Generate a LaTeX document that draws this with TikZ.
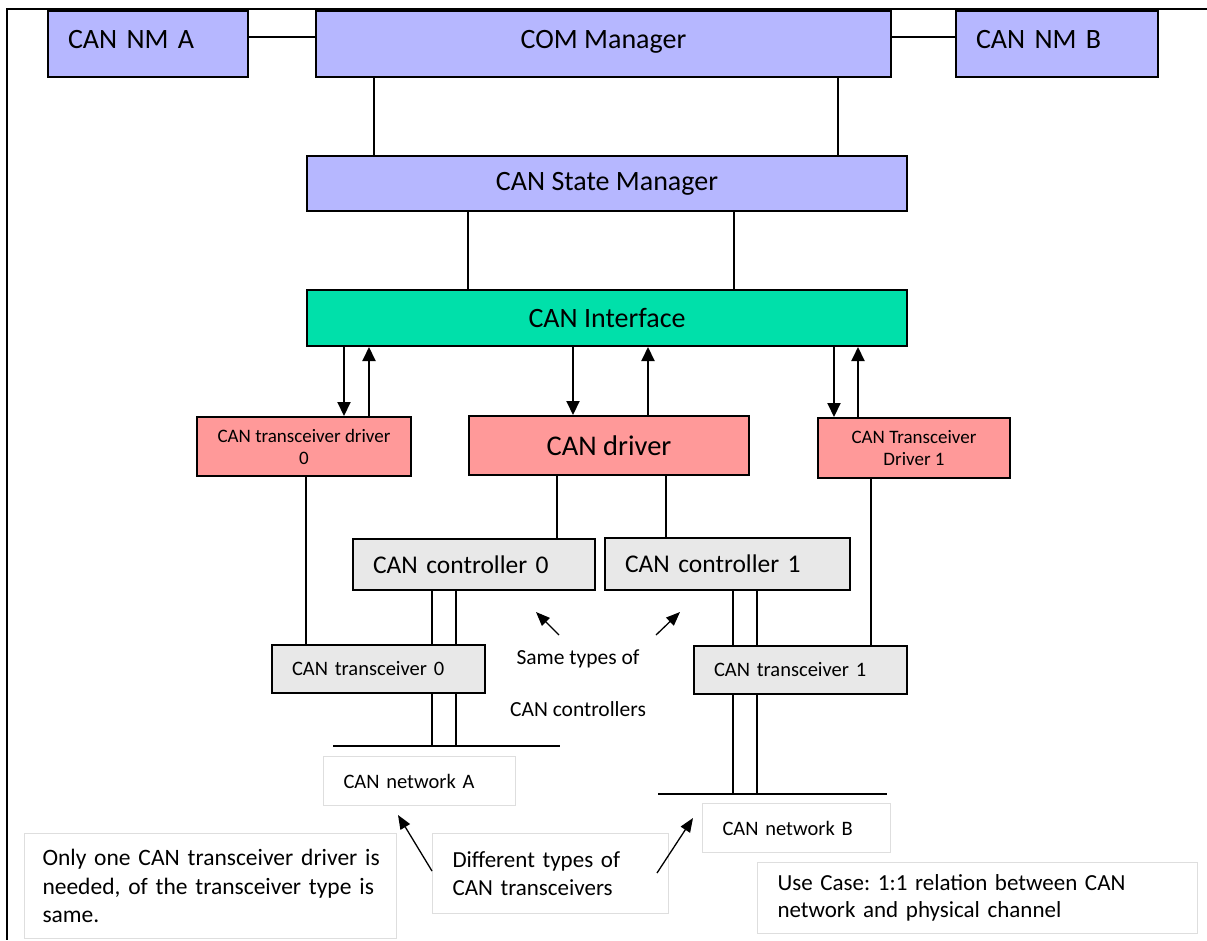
\documentclass[tikz,border=0pt]{standalone}
\usepackage{fontspec}
\setmainfont{Carlito}
\usetikzlibrary{arrows.meta}

\definecolor{nmblue}{RGB}{182,183,255}
\definecolor{ifteal}{RGB}{0,224,170}
\definecolor{drvpink}{RGB}{255,153,153}
\definecolor{hwgray}{RGB}{232,232,232}
\definecolor{noteline}{RGB}{222,222,222}

\tikzset{
  box/.style={draw, line width=2pt, anchor=north west, inner sep=0pt},
  modbox/.style={box, fill=nmblue, font=\fontsize{28}{32}\selectfont},
  toprow/.style={modbox, minimum height=66pt, text height=20pt, text depth=12pt},
  drvbox/.style={box, fill=drvpink},
  hwbox/.style={box, fill=hwgray},
  notebox/.style={draw=noteline, line width=1pt, anchor=north west, inner sep=0pt, fill=white},
  bigarrow/.style={-{Triangle[width=13pt,length=14pt]}},
  notearrow/.style={line width=1.3pt, -{Triangle[width=11pt,length=14pt]}}
}

\begin{document}
\frenchspacing
\begin{tikzpicture}[x=1pt, y=-1pt, line width=2pt]
\useasboundingbox (0,0) rectangle (1207,940);
\draw (1207,9) -- (7,9) -- (7,940);

% upper layer
\node[toprow, minimum width=200pt, text width=160pt, align=left] (nma) at (47,10) {CAN NM A};
\node[toprow, minimum width=575pt] (com) at (315,10) {COM Manager};
\node[toprow, minimum width=202pt, text width=162pt, align=left] (nmb) at (955,10) {CAN NM B};
\node[modbox, minimum width=600pt, minimum height=55pt] (csm) at (306,155) {CAN State Manager};
\node[box, fill=ifteal, font=\fontsize{28}{32}\selectfont, minimum width=600pt, minimum height=56pt] (canif) at (306,289) {CAN Interface};

% drivers
\node[drvbox, font=\fontsize{19}{22}\selectfont, minimum width=214pt, minimum height=59pt, align=center] (trdrv0) at (196,416) {CAN transceiver driver\\0};
\node[drvbox, font=\fontsize{28.5}{32}\selectfont, minimum width=280pt, minimum height=59pt] (candrv) at (468,415) {CAN driver};
\node[drvbox, font=\fontsize{19}{22}\selectfont, minimum width=192pt, minimum height=60pt, align=center] (trdrv1) at (817,417) {CAN Transceiver\\Driver 1};

% hardware
\node[hwbox, font=\fontsize{25.5}{28}\selectfont, minimum width=242pt, minimum height=51pt, text width=202pt, align=left] (ctrl0) at (352,538) {CAN controller 0};
\node[hwbox, font=\fontsize{25.5}{28}\selectfont, minimum width=245pt, minimum height=52pt, text width=205pt, align=left] (ctrl1) at (604,537) {CAN controller 1};
\node[hwbox, font=\fontsize{20.5}{24}\selectfont, minimum width=213pt, minimum height=48pt, text width=173pt, align=left] (trcv0) at (271,644) {CAN transceiver 0};
\node[hwbox, font=\fontsize{20.5}{24}\selectfont, minimum width=213pt, minimum height=48pt, text width=173pt, align=left] (trcv1) at (693,645) {CAN transceiver 1};

% networks
\coordinate (busAw) at (333,746);
\coordinate (busAe) at (560,746);
\coordinate (busBw) at (658,794);
\coordinate (busBe) at (887,794);
\draw (busAw) -- (busAe);
\draw (busBw) -- (busBe);
\node[notebox, font=\fontsize{20.5}{24}\selectfont, minimum width=192pt, minimum height=49pt, text width=152pt, align=left] (neta) at (323,756) {CAN network A};
\node[notebox, font=\fontsize{20.5}{24}\selectfont, minimum width=188pt, minimum height=49pt, text width=148pt, align=left] (netb) at (702,803) {CAN network B};

% notes
\node[font=\fontsize{21.5}{52}\selectfont, align=center] (same) at (578,683) {Same types of\\CAN controllers};
\node[notebox, font=\fontsize{23.5}{28.5}\selectfont, minimum width=372pt, minimum height=105pt, text width=336pt, align=left] (note1) at (24,833) {\mbox{Only one CAN transceiver driver is}\\\mbox{needed, of the transceiver type is}\\same.};
\node[notebox, font=\fontsize{23}{28}\selectfont, minimum width=236pt, minimum height=80pt, text width=196pt, align=left] (note2) at (432,833) {Different types of\\CAN transceivers};
\node[notebox, font=\fontsize{23}{27}\selectfont, minimum width=440pt, minimum height=71pt, text width=400pt, align=left] (note3) at (757,862) {Use Case: 1:1 relation between CAN\\network and physical channel};

% links
\draw (nma.east |- 0,37) -- (com.west |- 0,37);
\draw (com.east |- 0,37) -- (nmb.west |- 0,37);
\draw (com.south -| 374,0) -- (csm.north -| 374,0);
\draw (com.south -| 838,0) -- (csm.north -| 838,0);
\draw (csm.south -| 468,0) -- (canif.north -| 468,0);
\draw (csm.south -| 734,0) -- (canif.north -| 734,0);

\draw[bigarrow] (canif.south -| 344,0) -- (trdrv0.north -| 344,0);
\draw[bigarrow] (trdrv0.north -| 369,0) -- (canif.south -| 369,0);
\draw[bigarrow] (canif.south -| 573,0) -- (candrv.north -| 573,0);
\draw[bigarrow] (candrv.north -| 648,0) -- (canif.south -| 648,0);
\draw[bigarrow] (canif.south -| 834,0) -- (trdrv1.north -| 834,0);
\draw[bigarrow] (trdrv1.north -| 858,0) -- (canif.south -| 858,0);

\draw (candrv.south -| 557,0) -- (ctrl0.north -| 557,0);
\draw (candrv.south -| 666,0) -- (ctrl1.north -| 666,0);
\draw (trdrv0.south -| 306,0) -- (trcv0.north -| 306,0);
\draw (trdrv1.south -| 871,0) -- (trcv1.north -| 871,0);

\draw (ctrl0.south -| 432,0) -- (trcv0.north -| 432,0);
\draw (ctrl0.south -| 456,0) -- (trcv0.north -| 456,0);
\draw (trcv0.south -| 432,0) -- (busAw -| 432,0);
\draw (trcv0.south -| 456,0) -- (busAw -| 456,0);
\draw (ctrl1.south -| 733,0) -- (trcv1.north -| 733,0);
\draw (ctrl1.south -| 757,0) -- (trcv1.north -| 757,0);
\draw (trcv1.south -| 733,0) -- (busBw -| 733,0);
\draw (trcv1.south -| 757,0) -- (busBw -| 757,0);

% pointers
\coordinate (sameL) at (559,635);
\coordinate (sameLtip) at (536,612);
\coordinate (sameR) at (656,635);
\coordinate (sameRtip) at (680,612);
\draw[notearrow] (sameL) -- (sameLtip);
\draw[notearrow] (sameR) -- (sameRtip);
\coordinate (diffR) at (657,873);
\coordinate (netAtip) at (398,815);
\coordinate (netBtip) at (693,818);
\draw[notearrow] (note2.west |- 0,871) -- (netAtip);
\draw[notearrow] (diffR) -- (netBtip);
\end{tikzpicture}
\end{document}
